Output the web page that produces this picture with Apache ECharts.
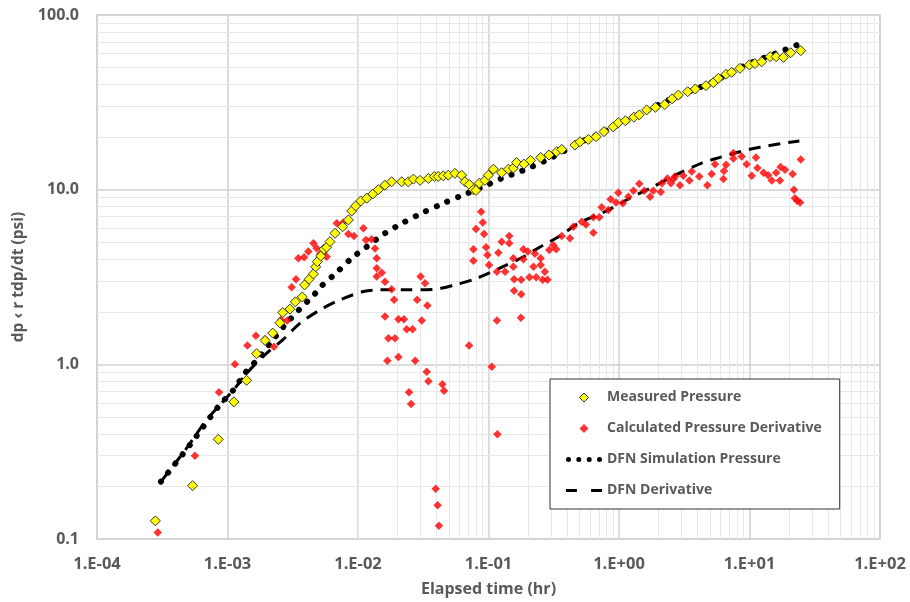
<!DOCTYPE html>
<html>
<head>
<meta charset="utf-8">
<script src="https://cdn.jsdelivr.net/npm/echarts@6/dist/echarts.min.js"></script>
<style>html,body{margin:0;padding:0;background:#fff;}#c{width:910px;height:602px;}</style>
</head>
<body>
<div id="c"></div>
<script>
// ---- Data ----
const measuredTime = [2.8e-4,5.4e-4,8.5e-4,1.12e-3,1.40e-3,1.67e-3,1.94e-3,2.22e-3,2.52e-3,2.65e-3,3.01e-3,3.31e-3,3.74e-3,3.90e-3,4.22e-3,4.55e-3,4.74e-3,4.88e-3,5.18e-3,5.48e-3,5.75e-3,6.10e-3,6.67e-3,7.64e-3,8.44e-3,8.95e-3,9.60e-3,1.05e-2,1.17e-2,1.30e-2,1.43e-2,1.61e-2,1.81e-2,2.16e-2,2.43e-2,2.66e-2,2.99e-2,3.46e-2,3.85e-2,4.12e-2,4.50e-2,4.92e-2,5.53e-2,6.23e-2,6.61e-2,7.13e-2,7.66e-2,8.02e-2,8.51e-2,9.40e-2,9.97e-2,0.109,0.126,0.142,0.155,0.164,0.187,0.210,0.251,0.291,0.333,0.364,0.46,0.503,0.582,0.667,0.768,0.904,0.988,1.12,1.30,1.43,1.63,1.90,2.24,2.55,2.85,3.36,3.84,4.64,5.28,5.77,6.61,7.30,8.45,9.97,11.0,12.4,14.4,16.0,18.2,20.7,24.7];
const measuredPressure = [0.127,0.202,0.372,0.61,0.81,1.15,1.37,1.51,1.73,1.98,2.07,2.28,2.43,2.85,3.07,3.29,3.62,3.87,4.17,4.56,4.68,5.04,5.63,6.14,6.71,7.55,8.07,8.62,8.93,9.45,10.0,10.6,11.1,11.1,11.1,11.5,11.3,11.6,11.9,11.9,12.0,12.1,12.4,12.1,11.1,10.7,10.0,9.9,10.9,11.3,12.1,13.1,12.5,13.1,13.3,14.3,14.0,14.7,15.3,15.8,16.5,17.0,18.0,18.8,19.4,20.1,21.5,22.9,24.2,24.8,26.0,26.8,28.6,29.6,30.7,33.1,34.8,36.4,37.7,39.4,41.0,43.4,45.8,47.0,49.5,51.8,52.7,54.0,57.7,57.7,57.2,60.8,62.5];

const derivTime = [2.92e-4,5.63e-4,8.61e-4,1.14e-3,1.42e-3,1.65e-3,1.94e-3,2.27e-3,2.57e-3,2.87e-3,3.10e-3,3.35e-3,3.49e-3,3.86e-3,4.16e-3,4.55e-3,4.82e-3,5.12e-3,5.48e-3,5.75e-3,6.87e-3,7.71e-3,8.43e-3,9.31e-3,1.10e-2,1.15e-2,1.27e-2,1.35e-2,1.39e-2,1.39e-2,1.39e-2,1.52e-2,1.61e-2,1.81e-2,1.89e-2,1.61e-2,2.04e-2,2.25e-2,2.36e-2,2.62e-2,1.71e-2,1.92e-2,1.68e-2,2.04e-2,2.74e-2,3.02e-2,3.26e-2,2.84e-2,3.40e-2,3.08e-2,3.36e-2,3.46e-2,4.43e-2,4.56e-2,2.46e-2,2.55e-2,3.94e-2,4.07e-2,4.17e-2,7.10e-2,8.77e-2,9.04e-2,8.02e-2,9.25e-2,7.66e-2,7.66e-2,9.58e-2,9.80e-2,0.101,0.116,0.134,0.119,0.126,0.144,0.144,0.116,0.106,0.117,0.155,0.155,0.157,0.157,0.178,0.178,0.177,0.185,0.185,0.200,0.206,0.221,0.227,0.232,0.251,0.251,0.260,0.270,0.283,0.292,0.313,0.330,0.364,0.421,0.447,0.518,0.558,0.636,0.636,0.706,0.736,0.828,0.863,0.948,0.988,1.07,1.18,1.29,1.43,1.56,1.73,1.83,2.09,2.13,2.35,2.50,2.61,2.69,2.93,3.11,3.46,3.61,4.12,4.75,5.13,5.44,6.31,6.38,6.61,7.52,7.52,8.71,9.51,10.4,11.2,11.5,12.8,13.9,14.8,16.0,17.1,17.3,18.7,21.4,21.9,22.3,23.2,24.4,24.7];
const derivValue = [0.109,0.300,0.692,1.00,1.28,1.46,1.39,1.26,1.80,1.78,2.76,3.07,4.05,4.10,4.42,4.93,4.62,4.28,4.42,4.13,6.42,6.48,5.58,5.43,6.01,5.15,5.20,4.60,4.05,3.55,3.18,3.35,2.97,2.69,2.34,1.88,1.81,1.81,1.59,1.59,1.41,1.41,1.05,1.10,1.05,3.18,2.91,2.34,2.17,1.78,0.908,0.80,0.77,0.707,0.692,0.593,0.194,0.156,0.119,1.28,7.48,6.48,5.96,5.58,4.56,3.92,4.68,4.23,3.71,3.39,3.39,4.36,5.04,5.43,4.93,1.78,0.97,0.398,4.05,3.62,3.07,2.64,3.05,2.52,1.85,4.56,4.00,4.42,3.15,3.62,4.30,3.15,4.05,3.71,3.05,3.39,3.05,4.52,4.82,4.56,5.43,5.27,6.14,6.56,6.32,5.67,6.95,6.95,7.93,7.65,8.81,8.43,9.60,8.36,9.12,9.87,10.8,9.87,9.12,9.87,9.70,10.9,11.6,10.9,11.5,11.9,10.6,12.0,11.3,12.7,11.9,10.6,12.3,14.0,11.5,12.8,13.9,16.2,15.1,15.5,14.0,12.0,15.3,13.3,12.5,12.1,11.3,12.5,11.3,13.5,13.0,12.3,10.0,8.93,8.65,8.43,14.9];

const dfnPressTime = [3.09e-4,5.16e-4,8.51e-4,1.11e-3,1.36e-3,1.72e-3,2.14e-3,2.76e-3,3.53e-3,4.60e-3,5.18e-3,6.75e-3,8.95e-3,1.17e-2,1.61e-2,2.22e-2,3.13e-2,4.38e-2,6.12e-2,8.87e-2,0.126,0.180,0.296,0.50,0.768,1.73,2.55,5.28,8.45,17.1,23.9];
const dfnPressValue = [0.213,0.346,0.573,0.713,0.889,1.08,1.33,1.68,2.05,2.50,2.78,3.32,4.05,4.72,5.63,6.47,7.38,8.28,9.20,10.3,11.6,12.8,15.1,18.6,21.5,29.0,33.3,41.5,50.0,61.6,68.0];

const dfnDerivTime = [3.09e-4,4.86e-4,6.93e-4,1.11e-3,1.44e-3,2.00e-3,2.65e-3,3.60e-3,5.12e-3,7.28e-3,1.10e-2,1.48e-2,2.36e-2,3.67e-2,5.53e-2,8.13e-2,0.122,0.185,0.256,0.353,0.488,0.781,1.21,1.83,2.69,4.30,5.94,8.45,12.0,17.1,24.1];
const dfnDerivValue = [0.213,0.331,0.481,0.713,0.908,1.16,1.38,1.72,2.05,2.34,2.61,2.67,2.67,2.68,2.85,3.11,3.55,4.13,4.76,5.43,6.42,7.48,8.93,10.4,12.1,14.2,15.3,16.5,17.5,18.3,19.0];

const xTickLabels = ['1.E-04','1.E-03','1.E-02','1.E-01','1.E+00','1.E+01','1.E+02'];
const yTickLabels = ['0.1','1.0','10.0','100.0'];
const seriesNames = ['Measured Pressure','Calculated Pressure Derivative','DFN Simulation Pressure','DFN Derivative'];

// ---- Build ----
const zip = (a, b) => a.map((v, i) => [v, b[i]]);
const minorLines = [];
for (let k = -4; k <= 1; k++) for (let m = 2; m <= 9; m++) minorLines.push({ xAxis: m * Math.pow(10, k) });
for (let k = -1; k <= 1; k++) for (let m = 2; m <= 9; m++) minorLines.push({ yAxis: m * Math.pow(10, k) });

const FONT = '"Open Sans", sans-serif';
const TXT = '#595959';

// legend icon shapes (legend only)
const ICON_DIAMOND = 'path://M5,0L10,5L5,10L0,5Z';
const ICON_DOTS = 'path://M0,2.5a2.5,2.5 0 1,0 5,0a2.5,2.5 0 1,0 -5,0ZM10.3,2.5a2.5,2.5 0 1,0 5,0a2.5,2.5 0 1,0 -5,0ZM20.7,2.5a2.5,2.5 0 1,0 5,0a2.5,2.5 0 1,0 -5,0ZM31,2.5a2.5,2.5 0 1,0 5,0a2.5,2.5 0 1,0 -5,0Z';
const ICON_DASH = 'path://M0,0h11v3h-11ZM25,0h11v3h-11Z';

const chart = echarts.init(document.getElementById('c'), null, { renderer: 'canvas' });
chart.setOption({
  animation: false,
  backgroundColor: '#fff',
  grid: { left: 97, right: 30, top: 15, bottom: 63, show: true, borderColor: '#d0d0d0', borderWidth: 1.5, backgroundColor: 'transparent' },
  xAxis: {
    type: 'log', logBase: 10, min: 1e-4, max: 100, interval: 1,
    name: 'Elapsed time (hr)', nameLocation: 'middle', nameGap: 42,
    nameTextStyle: { fontFamily: FONT, fontWeight: 'bold', fontSize: 16, color: TXT },
    axisLine: { show: false }, axisTick: { show: false },
    axisLabel: { margin: 17, fontFamily: FONT, fontWeight: 'bold', fontSize: 16.5, color: TXT,
      formatter: v => xTickLabels[Math.round(Math.log10(v)) + 4] },
    splitLine: { show: true, lineStyle: { color: '#d0d0d0', width: 1.5 } }
  },
  yAxis: {
    type: 'log', logBase: 10, min: 0.1, max: 100, interval: 1,
    name: 'dp ‹ r tdp/dt (psi)', nameLocation: 'middle', nameGap: 68,
    nameTextStyle: { fontFamily: FONT, fontWeight: 'bold', fontSize: 15.5, color: TXT },
    axisLine: { show: false }, axisTick: { show: false },
    axisLabel: { margin: 18, fontFamily: FONT, fontWeight: 'bold', fontSize: 16, color: TXT,
      formatter: v => yTickLabels[Math.round(Math.log10(v)) + 1] },
    splitLine: { show: true, lineStyle: { color: '#d0d0d0', width: 1.5 } }
  },
  legend: {
    orient: 'vertical', left: 550, top: 379, z: 10,
    padding: [9, 18, 9, 16], itemGap: 12, itemWidth: 36, itemHeight: 9,
    borderColor: '#333', borderWidth: 1, backgroundColor: '#fff',
    textStyle: { fontFamily: FONT, fontWeight: 'bold', fontSize: 14, color: TXT, lineHeight: 19 },
    data: [
      { name: seriesNames[0], icon: ICON_DIAMOND, itemStyle: { color: '#ffff00', borderColor: '#333', borderWidth: 1 } },
      { name: seriesNames[1], icon: ICON_DIAMOND, itemStyle: { color: '#ff0000', borderWidth: 0 } },
      { name: seriesNames[2], icon: ICON_DOTS, itemStyle: { color: '#000', borderWidth: 0 } },
      { name: seriesNames[3], icon: ICON_DASH, itemStyle: { color: '#000', borderWidth: 0 } }
    ],
    selectedMode: false
  },
  series: [
    { type: 'line', name: 'minor', data: [], z: 1, silent: true,
      markLine: { z: 1, silent: true, symbol: ['none', 'none'], label: { show: false }, animation: false,
        lineStyle: { color: '#e8e8e8', width: 1, type: 'solid' }, emphasis: { disabled: true }, data: minorLines } },
    { type: 'line', name: seriesNames[3], data: zip(dfnDerivTime, dfnDerivValue), z: 2, smooth: 0.3,
      showSymbol: false, symbol: 'none', lineStyle: { color: '#000', width: 3, type: [12, 8] }, itemStyle: { color: '#000' } },
    { type: 'line', name: seriesNames[2], data: zip(dfnPressTime, dfnPressValue), z: 3, smooth: 0.3,
      showSymbol: false, symbol: 'none', lineStyle: { color: '#000', width: 6, type: [0.1, 11.5], cap: 'round' }, itemStyle: { color: '#000' } },
    { type: 'scatter', name: seriesNames[1], data: zip(derivTime, derivValue), z: 4,
      symbol: 'diamond', symbolSize: 8.5, itemStyle: { color: '#ff0000' } },
    { type: 'scatter', name: seriesNames[0], data: zip(measuredTime, measuredPressure), z: 5,
      symbol: 'diamond', symbolSize: 10, itemStyle: { color: '#ffff00', borderColor: '#333', borderWidth: 1, opacity: 1 } }
  ]
});
</script>
</body>
</html>
